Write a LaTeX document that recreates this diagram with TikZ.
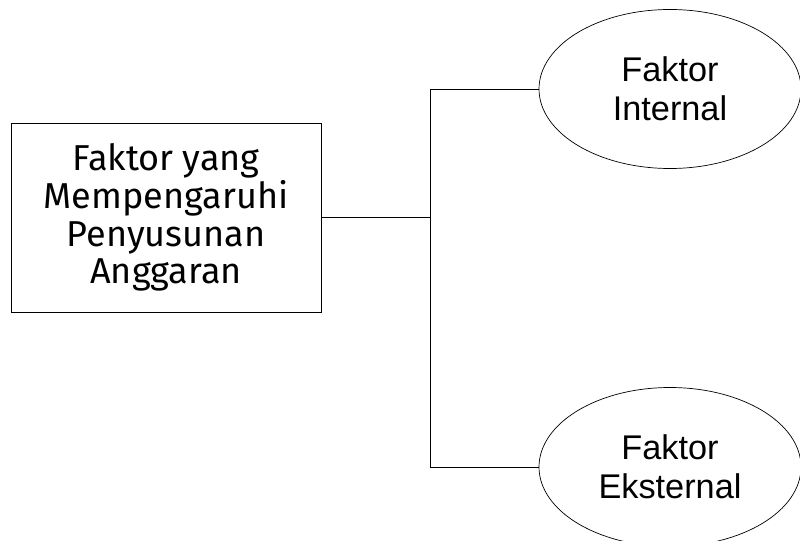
\documentclass[tikz,border=0pt]{standalone}
\usepackage{fontspec}
\setmainfont{Liberation Sans}
\newfontfamily\boxfont{Fira Sans}
\usetikzlibrary{shapes.geometric}

\begin{document}
\begin{tikzpicture}[
    box/.style={
        rectangle,
        draw,
        thin,
        minimum width=6.2cm,
        minimum height=3.78cm,
        align=center,
        font=\boxfont\fontsize{20.5}{21.5}\selectfont
    },
    factor/.style={
        ellipse,
        draw,
        thin,
        inner sep=0pt,
        minimum width=5.24cm,
        minimum height=3.18cm,
        align=center,
        font=\fontsize{19.5}{22}\selectfont
    },
    link/.style={
        draw,
        thin
    }
]

\useasboundingbox (0,0) rectangle (16,-10.8);
\clip (0,0) rectangle (16,-10.8);

% Faktor utama
\node[box] (faktor) at (3.32,-4.35) {Faktor yang\\Mempengaruhi\\Penyusunan\\Anggaran};

% Faktor internal dan eksternal
\node[factor] (internal) at (13.4,-1.78) {Faktor\\Internal};
\node[factor] (eksternal) at (13.4,-9.34) {Faktor\\Eksternal};

% Percabangan
\coordinate (cabang) at (8.6,-4.35);
\draw[link] (faktor.east) -- (cabang);
\draw[link] (internal.west) -| (cabang);
\draw[link] (eksternal.west) -| (cabang);

\end{tikzpicture}
\end{document}
